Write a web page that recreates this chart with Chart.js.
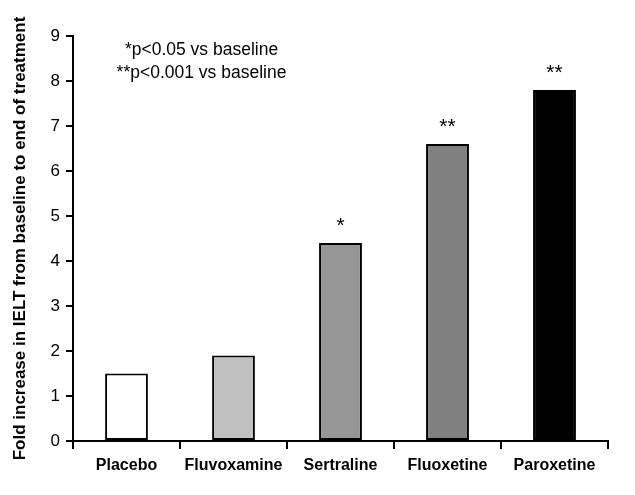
<!DOCTYPE html>
<html>
<head>
<meta charset="utf-8">
<script src="https://cdn.jsdelivr.net/npm/chart.js@4/dist/chart.umd.min.js"></script>
<style>
  html, body { margin: 0; padding: 0; background: #fff; }
</style>
</head>
<body>
<canvas id="ieltChart" width="635" height="495"></canvas>
<script>
var drugs = ['Placebo', 'Fluvoxamine', 'Sertraline', 'Fluoxetine', 'Paroxetine'];
var foldIncrease = [1.5, 1.9, 4.4, 6.6, 7.8];
var sigMarks = ['', '', '*', '**', '**'];
var barColors = ['#ffffff', '#c0c0c0', '#969696', '#808080', '#000000'];
var notes = ['*p<0.05 vs baseline', '**p<0.001 vs baseline'];

// stars above the bars and the little key in the top left
var annotations = {
    id: 'annotations',
    afterDatasetsDraw: function(chart) {
        var ctx = chart.ctx;
        var meta = chart.getDatasetMeta(0);
        ctx.save();
        ctx.fillStyle = '#000';
        ctx.textAlign = 'center';
        ctx.textBaseline = 'alphabetic';
        ctx.font = '21px "Liberation Sans", Arial, sans-serif';
        meta.data.forEach(function(bar, i) {
            if (sigMarks[i]) {
                ctx.fillText(sigMarks[i], bar.x, bar.y - 11);
            }
        });
        ctx.font = '17.5px "Liberation Sans", Arial, sans-serif';
        ctx.textBaseline = 'middle';
        var cx = chart.scales.x.getPixelForValue(0) + 75;
        notes.forEach(function(t, i) {
            ctx.fillText(t, cx, 50 + i * 23);
        });
        ctx.restore();
    }
};

var ctx = document.getElementById('ieltChart').getContext('2d');
var chart = new Chart(ctx, {
    type: 'bar',
    data: {
        labels: drugs,
        datasets: [{
            data: foldIncrease,
            backgroundColor: barColors,
            borderColor: '#000',
            borderWidth: 2,
            borderSkipped: false,
            categoryPercentage: 1.0,
            barPercentage: 0.4
        }]
    },
    options: {
        responsive: false,
        animation: false,
        layout: { padding: { left: 0, right: 27, top: 36, bottom: 0 } },
        plugins: {
            legend: { display: false },
            tooltip: { enabled: false }
        },
        scales: {
            x: {
                grid: { display: true, drawOnChartArea: false, color: '#000', lineWidth: 2, tickLength: 8, offset: true },
                border: { color: '#000', width: 2 },
                ticks: {
                    color: '#000',
                    padding: 7,
                    font: { family: '"Liberation Sans", Arial, sans-serif', size: 16, weight: 'bold' }
                },
                afterFit: function(scale) { scale.height = 54; }
            },
            y: {
                min: 0,
                max: 9,
                ticks: {
                    stepSize: 1,
                    color: '#000',
                    padding: 6,
                    font: { family: '"Liberation Sans", Arial, sans-serif', size: 17 }
                },
                grid: { display: true, drawOnChartArea: false, color: '#000', lineWidth: 2, tickLength: 7 },
                border: { color: '#000', width: 2 },
                title: {
                    display: true,
                    text: 'Fold increase in IELT from baseline to end of treatment',
                    color: '#000',
                    padding: { top: 10, bottom: 0 },
                    font: { family: '"Liberation Sans", Arial, sans-serif', size: 17, weight: 'bold' }
                },
                afterFit: function(scale) { scale.width = 73; }
            }
        }
    },
    plugins: [annotations]
});
</script>
</body>
</html>
